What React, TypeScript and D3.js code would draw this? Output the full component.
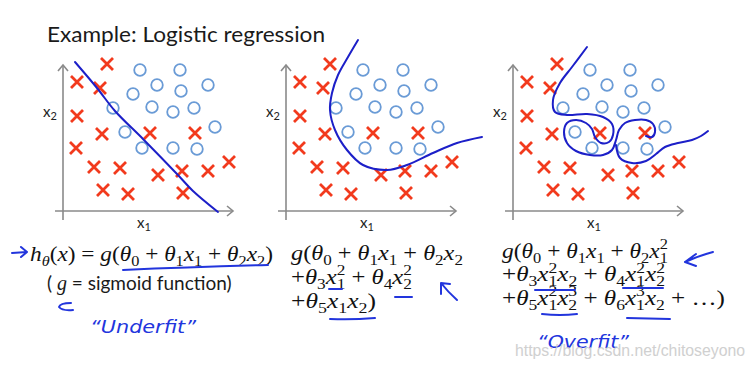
import React, { useLayoutEffect, useRef } from 'react';
import * as d3 from 'd3';

// ---- Data (x1, x2), same training set in all panels ----
const negX1 = [44, 14, 37, 14, 39, 87, 132, 13, 31, 57, 95, 119, 145, 166, 40, 65, 120];
const negX2 = [147, 129, 123, 95, 77, 78, 78, 63, 44, 43, 36, 40, 40, 49, 21, 17, 18];
const posX1 = [77, 117, 94, 118, 145, 70, 50, 89, 110, 131, 62, 152, 79, 110, 134];
const posX2 = [141, 141, 126, 120, 126, 117, 103, 104, 99, 103, 79, 84, 63, 63, 62];

// decision boundaries
const bound1X1 = [12, 34, 52, 80, 114, 130, 155];
const bound1X2 = [149, 123, 100, 72, 37, 20, -1];
const bound2X1 = [72, 62, 52, 46, 44, 49, 61, 77, 101, 121, 147, 171, 196];
const bound2X2 = [171, 154, 136, 118, 101, 81, 61, 46, 41, 46, 58, 68, 74];
const bound3aX1 = [74, 59, 47, 40, 42, 54, 74, 90, 99, 100, 96, 88, 82, 79, 73, 63, 54, 51, 54, 63, 77, 90, 99, 103, 106, 112, 122, 133, 140, 142, 139, 133];
const bound3aX2 = [164, 144, 128, 111, 99, 96, 97, 94, 87, 76, 69, 68, 74, 82, 88, 91, 88, 79, 68, 60, 56, 56, 61, 71, 81, 88, 91, 91, 87, 79, 74, 75];
const bound3bX1 = [103, 107, 119, 133, 143, 152, 165, 179, 188, 195];
const bound3bX2 = [66, 53, 48, 50, 57, 64, 68, 71, 75, 80];

const title = 'Example: Logistic regression';
const formula1 = ['h_θ(x) = g(θ_0 + θ_1x_1 + θ_2x_2)'];
const formula2 = ['g(θ_0 + θ_1x_1 + θ_2x_2', '+θ_3x_1^2 + θ_4x_2^2', '+θ_5x_1x_2)'];
const formula3 = ['g(θ_0 + θ_1x_1 + θ_2x_1^2', '+θ_3x_1^2x_2 + θ_4x_1^2x_2^2', '+θ_5x_1^2x_2^3 + θ_6x_1^3x_2 + …)'];
const note1 = 'sigmoid function)';
const label1 = '“Underfit”';
const label3 = '“Overfit”';
const watermark = 'https://blog.csdn.net/chitoseyono';

// target widths of the formula lines on the slide (layout)
const widths1 = [243];
const widths2 = [172, 121, 85];
const widths3 = [166, 163, 223];

const RED = '#f23a1d';
const CIRC = '#6a9bd6';
const LINE = '#1c1fc8';
const PEN = '#2235dd';
const AX = '#8a8a8a';
const SERIF = '"Liberation Serif", "DejaVu Serif", serif';
const SANS = 'Lato, "Open Sans", sans-serif';

type Seg = { t: string; i: boolean; s?: 'sub' | 'sup'; back?: boolean };

function parse(s: string): Seg[] {
  const out: Seg[] = [];
  let i = 0;
  let prevScript = false;
  while (i < s.length) {
    const c = s[i];
    if (c === '_' || c === '^') {
      const ch = s[i + 1];
      out.push({ t: ch, i: /[a-zθ]/.test(ch), s: c === '_' ? 'sub' : 'sup', back: prevScript });
      prevScript = true;
      i += 2;
      continue;
    }
    prevScript = false;
    const it = /[a-zA-Zθ]/.test(c);
    const last = out[out.length - 1];
    if (last && !last.s && last.i === it) last.t += c;
    else out.push({ t: c, i: it });
    i++;
  }
  return out;
}

function MathLine({ x, y, src, width, size = 21 }: { x: number; y: number; src: string; width: number; size?: number }) {
  const ref = useRef<SVGTextElement>(null);
  useLayoutEffect(() => {
    const el = ref.current;
    if (!el) return;
    el.removeAttribute('transform');
    const w = el.getBBox().width;
    if (w > 0) {
      const k = width / w;
      el.setAttribute('transform', `translate(${x},0) scale(${k},1) translate(${-x},0)`);
    }
  }, [x, width, src]);
  const segs = parse(src);
  const small = size * 0.7;
  let cur = 0;
  return (
    <text ref={ref} x={x} y={y} fontFamily={SERIF} fontSize={size} fill="#111" style={{ whiteSpace: 'pre' }}>
      {segs.map((sg, k) => {
        const target = sg.s === 'sub' ? size * 0.22 : sg.s === 'sup' ? -size * 0.42 : 0;
        const dy = target - cur;
        cur = target;
        return (
          <tspan
            key={k}
            dy={dy}
            dx={sg.back ? -small * 0.5 : undefined}
            fontStyle={sg.i ? 'italic' : 'normal'}
            fontSize={sg.s ? small : size}
          >
            {sg.t}
          </tspan>
        );
      })}
    </text>
  );
}

const origins = [
  { ox: 63, oy: 211 },
  { ox: 286, oy: 211 },
  { ox: 513, oy: 211 },
];

function Panel({ ox, oy, idx }: { ox: number; oy: number; idx: number }) {
  const x = d3.scaleLinear().domain([0, 170]).range([ox, ox + 170]);
  const y = d3.scaleLinear().domain([0, 150]).range([oy, oy - 150]);
  const line = d3
    .line<[number, number]>()
    .x((d) => x(d[0]))
    .y((d) => y(d[1]))
    .curve(d3.curveCatmullRom.alpha(0.5));
  const zip = (a: number[], b: number[]) => a.map((v, i) => [v, b[i]] as [number, number]);
  const bounds =
    idx === 0
      ? [zip(bound1X1, bound1X2)]
      : idx === 1
      ? [zip(bound2X1, bound2X2)]
      : [zip(bound3aX1, bound3aX2), zip(bound3bX1, bound3bX2)];
  const yTop = y(146);
  const xEnd = x(170);
  const a = 5;
  return (
    <g>
      <line x1={ox} x2={ox} y1={y(-9)} y2={yTop} stroke={AX} strokeWidth={1.6} />
      <path d={`M${ox - a},${yTop + a + 1}L${ox},${yTop}L${ox + a},${yTop + a + 1}`} fill="none" stroke={AX} strokeWidth={1.6} />
      <line x1={x(-8)} x2={xEnd} y1={oy} y2={oy} stroke={AX} strokeWidth={1.6} />
      <path d={`M${xEnd - a - 1},${oy - a}L${xEnd},${oy}L${xEnd - a - 1},${oy + a}`} fill="none" stroke={AX} strokeWidth={1.6} />
      <text x={ox - 20} y={oy - 94} fontFamily={SANS} fontSize={15} fill="#222">
        x<tspan fontSize={11} dy={3}>2</tspan>
      </text>
      <text x={x(74)} y={oy + 17} fontFamily={SANS} fontSize={15} fill="#222">
        x<tspan fontSize={11} dy={3}>1</tspan>
      </text>
      {posX1.map((v, i) => (
        <circle key={'p' + i} cx={x(v)} cy={y(posX2[i])} r={5.8} fill="none" stroke={CIRC} strokeWidth={1.8} />
      ))}
      {negX1.map((v, i) => {
        const cx = x(v);
        const cy = y(negX2[i]);
        const h = 6;
        return (
          <path
            key={'n' + i}
            d={`M${cx - h},${cy - h}L${cx + h},${cy + h}M${cx - h},${cy + h}L${cx + h},${cy - h}`}
            stroke={RED}
            strokeWidth={2.8}
          />
        );
      })}
      {bounds.map((b, i) => (
        <path key={'b' + i} d={line(b) || ''} fill="none" stroke={LINE} strokeWidth={2} strokeLinecap="round" />
      ))}
    </g>
  );
}

export default function App() {
  return (
    <svg
      width={755}
      height={367}
      viewBox="0 0 755 367"
      style={{ position: 'absolute', left: 0, top: 0, background: '#fff' }}
    >
      <rect width={755} height={367} fill="#fff" />
      <text x={47} y={42} fontFamily={SANS} fontSize={21} fill="#1a1a1a" textLength={278} lengthAdjust="spacingAndGlyphs">
        {title}
      </text>
      {origins.map((o, i) => (
        <Panel key={i} ox={o.ox} oy={o.oy} idx={i} />
      ))}

      {formula1.map((s, i) => (
        <MathLine key={'f1' + i} x={30} y={261} src={s} width={widths1[i]} />
      ))}
      <text x={47} y={290} fontFamily={SANS} fontSize={19} fill="#1a1a1a" style={{ whiteSpace: 'pre' }}>
        {'( '}
        <tspan fontFamily={SERIF} fontStyle="italic" fontSize={20}>g</tspan>
        {' = ' + note1}
      </text>
      {formula2.map((s, i) => (
        <MathLine key={'f2' + i} x={291} y={260 + i * 24} src={s} width={widths2[i]} />
      ))}
      {formula3.map((s, i) => (
        <MathLine key={'f3' + i} x={502} y={258 + i * 23.5} src={s} width={widths3[i]} />
      ))}

      <g fill="none" stroke={PEN} strokeWidth={2} strokeLinecap="round" strokeLinejoin="round">
        <path d="M12,253 L27,252 M21,247 L27,252 L21,257" />
        <path d="M123,270 Q190,267 268,265" />
        <path d="M71,303 Q60,303 59,307 Q62,311 73,310" />
        <path d="M329,289 L342,289" />
        <path d="M395,297 L412,297" />
        <path d="M330,319 Q352,320 375,318" />
        <path d="M457,300 Q448,292 441,283 M441,283 L441,294 M441,283 L450,284" />
        <path d="M713,252 Q698,256 685,262 M685,262 L696,254 M685,262 L696,266" />
        <path d="M535,290 L575,290" />
        <path d="M623,288 L663,288" />
        <path d="M542,314 Q560,316 577,314" />
        <path d="M627,318 L670,319" />
      </g>
      <text x={90} y={333} fontFamily='"DejaVu Sans", sans-serif' fontStyle="italic" fontSize={17} fill={PEN} textLength={106} lengthAdjust="spacingAndGlyphs">
        {label1}
      </text>
      <text x={537} y={348} fontFamily='"DejaVu Sans", sans-serif' fontStyle="italic" fontSize={17} fill={PEN} textLength={92} lengthAdjust="spacingAndGlyphs">
        {label3}
      </text>
      <text x={515} y={356} fontFamily='"Liberation Sans", Arial, sans-serif' fontSize={16} fill="#c8c8c8" opacity={0.85} textLength={230} lengthAdjust="spacingAndGlyphs">
        {watermark}
      </text>
    </svg>
  );
}
